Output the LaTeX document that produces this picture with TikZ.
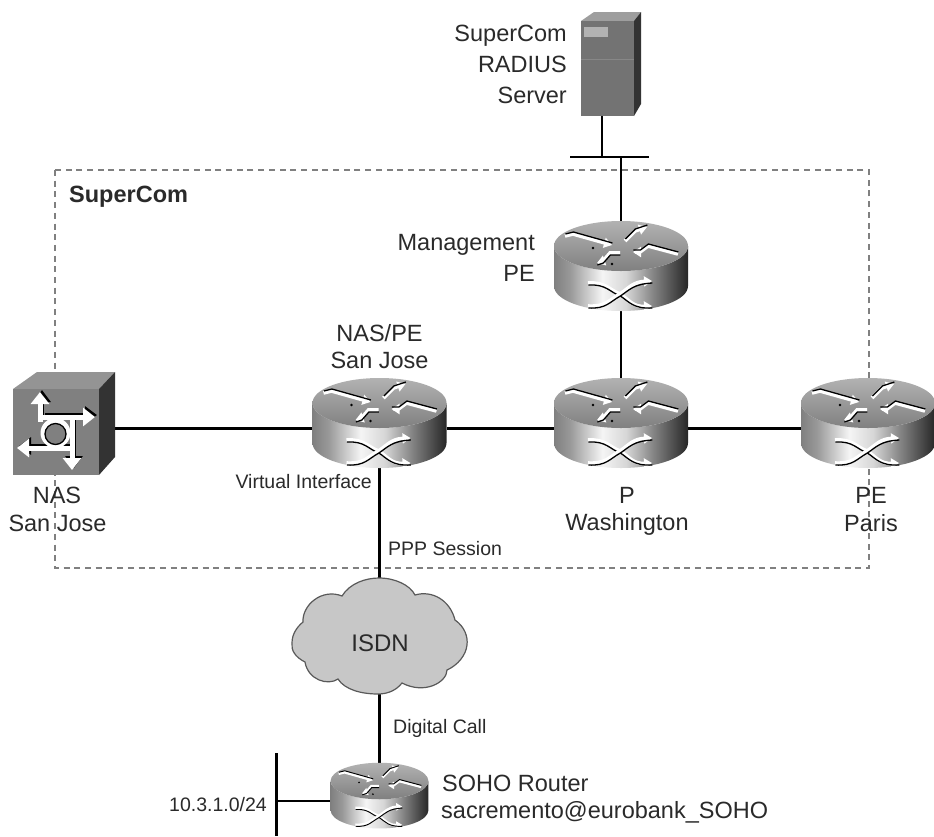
\documentclass[tikz,border=0pt]{standalone}
\usepackage{fontspec}
\setmainfont{Liberation Sans}
\usetikzlibrary{arrows.meta,calc}
\definecolor{txt}{HTML}{2A2A2A}
\pgfdeclarehorizontalshading{rtrside}{100bp}{color(0bp)=(black!50);color(25bp)=(black!50);color(31bp)=(black!40);color(43bp)=(black!4);color(52bp)=(black!16);color(62bp)=(black!48);color(75bp)=(black!85);color(100bp)=(black!85)}
\tikzset{
  devbox/.style={inner sep=0pt,outer sep=0pt,minimum width=#1},
  wire/.style={black,line width=2.5pt},
  big/.style={inner sep=0pt,text=txt,font=\fontsize{23.5}{29}\selectfont},
  small/.style={inner sep=0pt,text=txt,font=\fontsize{19.5}{24}\selectfont},
}
\newcommand{\glyphline}[3]{%
  \draw[white,line width=#1*3.6pt,-{Triangle[length=8pt,width=10pt,scale=#1]}] #3;
  \draw[black,line width=#1*1.3pt,shift={(0.4,#2)}] #3;}
\newcommand{\ciscorouter}[3]{%
\begin{scope}[shift={(#1,#2)},scale=#3]
  \shade[shading=rtrside] (-67,0) .. controls (-67,14) and (-37,25) .. (0,25) .. controls (37,25) and (67,14) .. (67,0) -- (67,40) .. controls (67,54) and (37,65) .. (0,65) .. controls (-37,65) and (-67,54) .. (-67,40) -- cycle;
  \shade[top color=black!30,bottom color=black!50] (-67,0) .. controls (-67,-14) and (-37,-25) .. (0,-25) .. controls (37,-25) and (67,-14) .. (67,0) .. controls (67,14) and (37,25) .. (0,25) .. controls (-37,25) and (-67,14) .. (-67,0) -- cycle;
  \glyphline{#3}{-2}{(-56,-10) -- (-48,-12) -- (-16,-3) -- (-9,-1)}
  \glyphline{#3}{-2}{(4,-5) -- (14,-15) -- (26,-19)}
  \glyphline{#3}{-2}{(57,8) -- (27,0) -- (19,6) -- (12,6)}
  \glyphline{#3}{2}{(-1,7) -- (-11,7) -- (-18,15) -- (-24,17)}
  \fill[black] (-28,2) circle (1.3) (-9,18) circle (1.3);
  \glyphline{#3}{2}{(-33,37) .. controls (-15,36) and (-12,44) .. (-1,48) .. controls (8,54) and (12,61) .. (31,60)}
  \glyphline{#3}{2}{(-33,60) .. controls (-15,61) and (-12,54) .. (-1,48) .. controls (8,42) and (12,36) .. (31,35)}
\end{scope}}
\begin{document}
\begin{tikzpicture}[x=1pt,y=-1pt]
\useasboundingbox (0,0) rectangle (934,836);
\fill[white] (0,0) rectangle (934,836);
% anchors of devices
\node[devbox=134pt,minimum height=90pt] (pe) at (379.5,423) {};
\node[devbox=134pt,minimum height=90pt] (wash) at (621,423) {};
\node[devbox=134pt,minimum height=90pt] (paris) at (868,423) {};
\node[devbox=134pt,minimum height=90pt] (mgmt) at (621,266) {};
\node[devbox=98pt,minimum height=66pt] (soho) at (379.5,796) {};
\node[devbox=102pt,minimum height=104pt] (nas) at (64,423) {};
\node[devbox=60pt,minimum height=104pt] (srv) at (611,64) {};
\node[devbox=175pt,minimum height=116pt] (cloud) at (379.5,636) {};
\coordinate (busL) at (570,157);
\coordinate (busR) at (649,157);
\coordinate (lanT) at (276,753);
\coordinate (lanB) at (276,836);
% provider boundary
\draw[black!50,line width=2.4pt,dash pattern=on 6pt off 4.7pt] (55,170) rectangle (869,568);
% connectors
\draw[wire] ([yshift=-5.5pt]nas.east) -- ([yshift=-5.5pt]pe.west);
\draw[wire] ([yshift=-5.5pt]pe.east) -- ([yshift=-5.5pt]wash.west);
\draw[wire] ([yshift=-5.5pt]wash.east) -- ([yshift=-5.5pt]paris.west);
\draw[wire] (mgmt.south) -- (wash.north);
\draw[wire] (busL -| mgmt.north) -- (mgmt.north);
\draw[wire] (busL) -- (busR);
\draw[wire] ([xshift=-9pt]srv.south) -- ([xshift=-9pt]srv.south |- busL);
\draw[wire] (pe.south) -- (cloud.north);
\draw[wire] (cloud.south) -- (soho.north);
\draw[black,line width=3pt] (lanT) -- (lanB);
\draw[wire] ([yshift=-5pt]soho.west) -- ([yshift=-5pt]soho.west -| lanT);
% routers
\ciscorouter{379.5}{403}{1}
\ciscorouter{621}{403}{1}
\ciscorouter{868}{403}{1}
\ciscorouter{621}{246}{1}
\ciscorouter{379.5}{781}{0.73}
% server
\fill[black!38] (581,21) -- (594,12) -- (641,12) -- (634,21) -- cycle;
\fill[black!80] (634,21) -- (641,12) -- (641,104) -- (634,116) -- cycle;
\fill[black!55] (581,21) rectangle (634,116);
\fill[black!30] (584,27) rectangle (608,37);
\draw[black!47,line width=0.8pt] (581,59) -- (634,59);
% NAS
\fill[black!42] (13,389) -- (37,372) -- (115,372) -- (99,389) -- cycle;
\fill[black!80] (99,389) -- (115,372) -- (115,457) -- (99,475) -- cycle;
\fill[black!50] (13,389) rectangle (99,475);
\begin{scope}[shift={(2,-2)},black,line width=4pt]
\draw[-{Triangle[length=12pt,width=17pt]}] (40,420) -- (40,392);
\draw[-{Triangle[length=12pt,width=17pt]}] (43,417) -- (95,417);
\draw[-{Triangle[length=12pt,width=17pt]}] (72,420) -- (72,470);
\draw[-{Triangle[length=12pt,width=17pt]}] (68,448) -- (17,448);
\end{scope}
\draw[white,line width=5pt,-{Triangle[length=12pt,width=18pt]}] (40,422) -- (40,392);
\draw[white,line width=5pt,-{Triangle[length=12pt,width=18pt]}] (40,417) -- (95,417);
\draw[white,line width=5pt,-{Triangle[length=12pt,width=18pt]}] (72,417) -- (72,470);
\draw[white,line width=5pt,-{Triangle[length=12pt,width=18pt]}] (72,448) -- (17,448);
\fill[white] (55.5,433) circle (15);
\draw[black,line width=1.3pt,fill=black!50] (55.5,434) circle (10.5);
% cloud
\draw[black!65,fill=black!22,line width=1.2pt]
 (342,596) .. controls (350,583) and (366,578) .. (379,578)
 .. controls (395,578) and (410,585) .. (415,595)
 .. controls (432,590) and (450,600) .. (455,620)
 .. controls (465,627) and (468,637) .. (467,645)
 .. controls (466,655) and (458,665) .. (447,670)
 .. controls (447,682) and (425,695) .. (402,683)
 .. controls (395,692) and (385,694) .. (378,694)
 .. controls (362,694) and (345,690) .. (338,679)
 .. controls (328,686) and (308,680) .. (305,662)
 .. controls (295,657) and (291,650) .. (292,643)
 .. controls (292,634) and (297,627) .. (303,622)
 .. controls (302,605) and (322,588) .. (342,596) -- cycle;
% labels
\node[big,anchor=east] (t1) at (567,36) {SuperCom};
\node[big,anchor=east] (t2) at (567,64) {RADIUS};
\node[big,anchor=east] (t3) at (567,95) {Server};
\node[inner sep=0pt,text=txt,font=\bfseries\fontsize{23.5}{29}\selectfont,anchor=west] (t4) at (69,197) {SuperCom};
\node[big,anchor=east] (t5) at (535,245) {Management};
\node[big,anchor=east] (t6) at (535,273) {PE};
\node[big] (t7) at (379.5,333) {NAS/PE};
\node[big] (t8) at (379.5,360) {San Jose};
\node[big] (t9) at (57,495) {NAS};
\node[big] (t10) at (57.5,523) {San Jose};
\node[big] (t11) at (627,495) {P};
\node[big] (t12) at (627,524) {Washington};
\node[big] (t13) at (871,495) {PE};
\node[big] (t14) at (871,523) {Paris};
\node[small,anchor=east] (t15) at (372,482) {Virtual Interface};
\node[small,anchor=west] (t16) at (388,549) {PPP Session};
\node[inner sep=0pt,text=txt,font=\fontsize{24}{29}\selectfont] (t17) at (380,643) {ISDN};
\node[small,anchor=west] (t18) at (393,728) {Digital Call};
\node[small,anchor=east] (t19) at (267,805) {10.3.1.0/24};
\node[big,anchor=west] (t20) at (442,783) {SOHO Router};
\node[big,anchor=west] (t21) at (441,812) {sacremento@eurobank\_SOHO};
\end{tikzpicture}
\end{document}
